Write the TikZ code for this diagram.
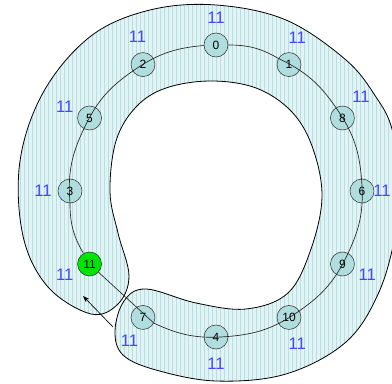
\documentclass[tikz,border=0pt]{standalone}
\usepackage{fontspec}
\setmainfont{Liberation Sans}
\usetikzlibrary{arrows.meta, patterns}
\definecolor{bandfill}{RGB}{226,243,245}
\definecolor{bandline}{RGB}{182,224,228}
\definecolor{vtxfill}{RGB}{176,222,222}
\definecolor{lblblue}{RGB}{70,70,255}
\definecolor{hotgreen}{RGB}{0,228,0}

\begin{document}
\begin{tikzpicture}[x=0.75pt, y=0.75pt,
    vtx/.style={draw=black!80, circle, fill=vtxfill, minimum size=18pt, inner sep=0pt, font=\fontsize{9}{10}\selectfont},
    lbl/.style={text=lblblue, inner sep=0pt, font=\fontsize{12.5}{14}\selectfont},
    ring/.style={draw=black!85, line width=0.5pt}]
    \clip (-216,-193) rectangle (176,191);

    \draw[line width=0.6pt, preaction={fill=bandfill}, preaction={pattern=vertical lines, pattern color=bandline}]
        plot[smooth cycle, tension=0.6] coordinates {
        (-20,-112) (-70,-98) (-92,-110) (-101,-140) (-93,-164) (-60,-179)
        (0,-190) (70,-183) (130,-151) (163,-101) (180,-40) (183,10) (176,62)
        (160,94) (130,131) (70,171) (0,186) (-66,181) (-125,155) (-172,100)
        (-196,30) (-193,-45) (-168,-96) (-125,-123) (-98,-113) (-87,-85)
        (-98,-42) (-106,-1) (-100,50) (-80,84) (-50,103) (-5,110)
        (40,103) (75,80) (96,45) (106,-5) (95,-58) (72,-102) (30,-118)};

    \node[vtx] (n0) at (90:146) {0};
    \node[vtx] (n1) at (60:146) {1};
    \node[vtx] (n8) at (30:146) {8};
    \node[vtx] (n6) at (0:146) {6};
    \node[vtx] (n9) at (-30:146) {9};
    \node[vtx] (n10) at (-60:146) {10};
    \node[vtx] (n4) at (-90:146) {4};
    \node[vtx] (n7) at (-120:146) {7};
    \node[vtx, fill=hotgreen] (n11) at (-150:146) {11};
    \node[vtx] (n3) at (180:146) {3};
    \node[vtx] (n5) at (150:146) {5};
    \node[vtx] (n2) at (120:146) {2};

    \draw[ring] (n0) to[bend left=15] (n1) to[bend left=15] (n8) to[bend left=15] (n6)
        to[bend left=15] (n9) to[bend left=15] (n10) to[bend left=15] (n4) to[bend left=15] (n7)
        -- (n11) to[bend left=15] (n3) to[bend left=15] (n5) to[bend left=15] (n2) to[bend left=15] (n0);

    \node[lbl] (l0) at (90:173) {11};
    \node[lbl] (l1) at (62:173) {11};
    \node[lbl] (l8) at (33:173) {11};
    \node[lbl] (l6) at (0:166) {11};
    \node[lbl] (l9) at (-29:173) {11};
    \node[lbl] (l10) at (-62:173) {11};
    \node[lbl] (l4) at (-90:173) {11};
    \node[lbl] (l7) at (-120:173) {11};
    \node[lbl] (l11) at (-151:173) {11};
    \node[lbl] (l3) at (180:173) {11};
    \node[lbl] (l5) at (151:173) {11};
    \node[lbl] (l2) at (117:173) {11};

    \coordinate (tail) at (-103,-136);
    \coordinate (tip) at (-133,-105);
    \draw[-{Stealth[length=5pt, width=3.5pt]}, line width=0.5pt] (tail) -- (tip);
\end{tikzpicture}
\end{document}
